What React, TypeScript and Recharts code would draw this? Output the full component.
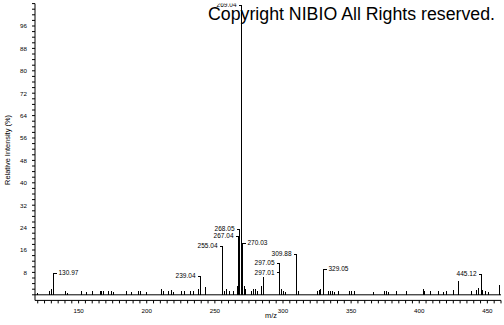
import React from 'react';
import { ComposedChart, Bar, XAxis, YAxis, ReferenceLine } from 'recharts';

// m/z positions of spectrum peaks
const peakMz = [
  119.4, 128.2, 129.5, 130.97, 140.2, 141.7, 151.5, 155.1, 160.0, 165.4, 166.7, 167.8,
  171.5, 174.0, 175.2, 185.0, 188.7, 193.6, 195.3, 199.7, 210.7, 211.9, 215.5, 218.0,
  219.2, 225.3, 227.7, 231.4, 233.8, 237.5, 239.04, 243.1, 255.04, 257.0, 258.5, 260.7,
  263.1, 266.0, 267.04, 268.05, 269.04, 270.03, 271.2, 272.3, 276.7, 278.0, 279.5, 281.0,
  283.5, 285.2, 297.01, 297.05, 298.2, 299.9, 301.5, 309.88, 311.0, 324.8, 326.2, 327.5,
  329.05, 332.9, 334.7, 335.8, 337.1, 340.7, 348.8, 350.0, 351.9, 366.4, 374.4, 375.7,
  376.8, 383.0, 390.3, 402.6, 403.8, 408.2, 413.5, 417.7, 419.7, 424.6, 428.3, 438.1,
  441.8, 442.9, 445.12, 446.1, 448.5, 450.2, 458.4,
];
// relative intensities (%) matching peakMz
const peakIntensity = [
  0.8, 1.5, 2.0, 7.8, 1.2, 0.8, 1.2, 1.0, 1.3, 1.2, 1.5, 1.2,
  1.3, 1.5, 1.0, 1.3, 1.0, 1.2, 1.2, 1.0, 2.2, 1.5, 1.5, 1.8,
  1.0, 1.2, 1.3, 1.2, 1.5, 2.0, 6.7, 2.8, 17.4, 1.5, 2.0, 1.5,
  1.2, 3.0, 21.0, 23.5, 100, 18.5, 3.0, 2.0, 1.5, 2.0, 2.0, 1.5,
  3.0, 6.2, 8.1, 11.4, 2.0, 1.5, 1.0, 14.7, 1.2, 1.2, 1.8, 2.0,
  9.2, 1.3, 1.5, 1.3, 1.0, 1.2, 1.3, 1.5, 1.2, 1.0, 1.2, 1.5,
  1.0, 1.2, 1.2, 2.2, 1.5, 1.2, 1.2, 1.0, 1.5, 1.8, 5.0, 1.5,
  1.8, 2.5, 7.4, 1.8, 1.5, 1.0, 3.5,
];
// peaks that carry an m/z label
const labeledMz = [130.97, 239.04, 255.04, 267.04, 268.05, 269.04, 270.03, 297.01, 297.05, 309.88, 329.05, 445.12];
const rightSideLabels = [130.97, 270.03, 329.05];

const xTickLabels = [150, 200, 250, 300, 350, 400, 450];
const yTickLabels = [8, 16, 24, 32, 40, 48, 56, 64, 72, 80, 88, 96];
const xMinorTicks = Array.from({ length: 69 }, (_, i) => 120 + i * 5);
const yMinorTicks = Array.from({ length: 53 }, (_, i) => i * 2);

const titleText = 'Copyright NIBIO All Rights reserved.';
const yAxisTitle = 'Relative Intensity (%)';
const xAxisTitle = 'm/z';

const FONT = '"Liberation Sans", Arial, sans-serif';

const peaks = peakMz
  .map((mz, i) => ({
    mz,
    intensity: peakIntensity[i],
    label: labeledMz.includes(mz) ? mz.toFixed(2) : undefined,
    right: rightSideLabels.includes(mz),
  }))
  .sort((a, b) => a.mz - b.mz);

const PeakShape = (props: any) => {
  const { x, y, width, height, payload } = props;
  if (x == null || y == null) return null;
  const cx = Math.round(x + width / 2) + 0.5;
  const top = y;
  const bottom = y + height;
  const parts: React.ReactNode[] = [
    <line key="l" x1={cx} x2={cx} y1={bottom} y2={top} stroke="#000" strokeWidth={1} shapeRendering="crispEdges" />,
  ];
  if (payload && payload.label) {
    const by = payload.intensity > 95 ? top - 10 : top;
    const byr = Math.round(by) + 0.5;
    if (by < top) {
      parts.push(<line key="ext" x1={cx} x2={cx} y1={top} y2={byr} stroke="#000" strokeWidth={1} shapeRendering="crispEdges" />);
    }
    if (payload.right) {
      parts.push(<line key="b" x1={cx} x2={cx + 3} y1={byr} y2={byr} stroke="#000" strokeWidth={1} shapeRendering="crispEdges" />);
      parts.push(
        <text key="t" x={cx + 5} y={by + 2.4} fontSize={6.5} fontFamily={FONT} fill="#000" textAnchor="start">
          {payload.label}
        </text>
      );
    } else {
      parts.push(<line key="b" x1={cx - 3} x2={cx} y1={byr} y2={byr} stroke="#000" strokeWidth={1} shapeRendering="crispEdges" />);
      parts.push(
        <text key="t" x={cx - 5} y={by + 2.4} fontSize={6.5} fontFamily={FONT} fill="#000" textAnchor="end">
          {payload.label}
        </text>
      );
    }
  }
  return <g>{parts}</g>;
};

const XTick = (props: any) => {
  const { x, payload } = props;
  if (!xTickLabels.includes(payload.value)) return null;
  return (
    <text x={x} y={313} fontSize={6.2} fontFamily={FONT} fill="#000" textAnchor="middle">
      {payload.value}
    </text>
  );
};

const YTick = (props: any) => {
  const { y, payload } = props;
  if (!yTickLabels.includes(payload.value)) return null;
  return (
    <text x={27} y={y + 2.3} fontSize={6.2} fontFamily={FONT} fill="#000" textAnchor="end">
      {payload.value}
    </text>
  );
};

export default function App() {
  return (
    <div style={{ position: 'absolute', left: 0, top: 0, width: 504, height: 325, background: '#fff' }}>
      <svg
        width={504}
        height={325}
        style={{ position: 'absolute', left: 0, top: 0, pointerEvents: 'none' }}
      >
        <text
          x={208}
          y={19.5}
          fontSize={18}
          fontFamily={FONT}
          fill="#000"
          textLength={287}
          lengthAdjust="spacingAndGlyphs"
        >
          {titleText}
        </text>
        <text
          x={0}
          y={0}
          transform="translate(9.5,150) rotate(-90)"
          fontSize={7.4}
          fontFamily={FONT}
          fill="#000"
          textAnchor="middle"
        >
          {yAxisTitle}
        </text>
        <text x={271} y={318} fontSize={7.4} fontFamily={FONT} fill="#000" textAnchor="middle">
          {xAxisTitle}
        </text>
      </svg>
      <div style={{ position: 'relative' }}>
        <ComposedChart
          width={504}
          height={325}
          data={peaks}
          margin={{ top: 3.6, right: 3, bottom: 0, left: 0 }}
        >
          <XAxis
            dataKey="mz"
            type="number"
            domain={[118, 460]}
            ticks={xMinorTicks}
            interval={0}
            tick={<XTick />}
            tickSize={3}
            height={24.6}
            axisLine={{ stroke: '#000' }}
            tickLine={{ stroke: '#000' }}
            allowDataOverflow
          />
          <YAxis
            type="number"
            domain={[-2, 104]}
            ticks={yMinorTicks}
            interval={0}
            tick={<YTick />}
            tickSize={3}
            width={35}
            axisLine={{ stroke: '#000' }}
            tickLine={{ stroke: '#000' }}
            allowDataOverflow
          />
          <ReferenceLine y={0} stroke="#000" strokeWidth={1} ifOverflow="extendDomain" />
          <Bar dataKey="intensity" barSize={1} isAnimationActive={false} shape={<PeakShape />} />
        </ComposedChart>
      </div>
    </div>
  );
}
